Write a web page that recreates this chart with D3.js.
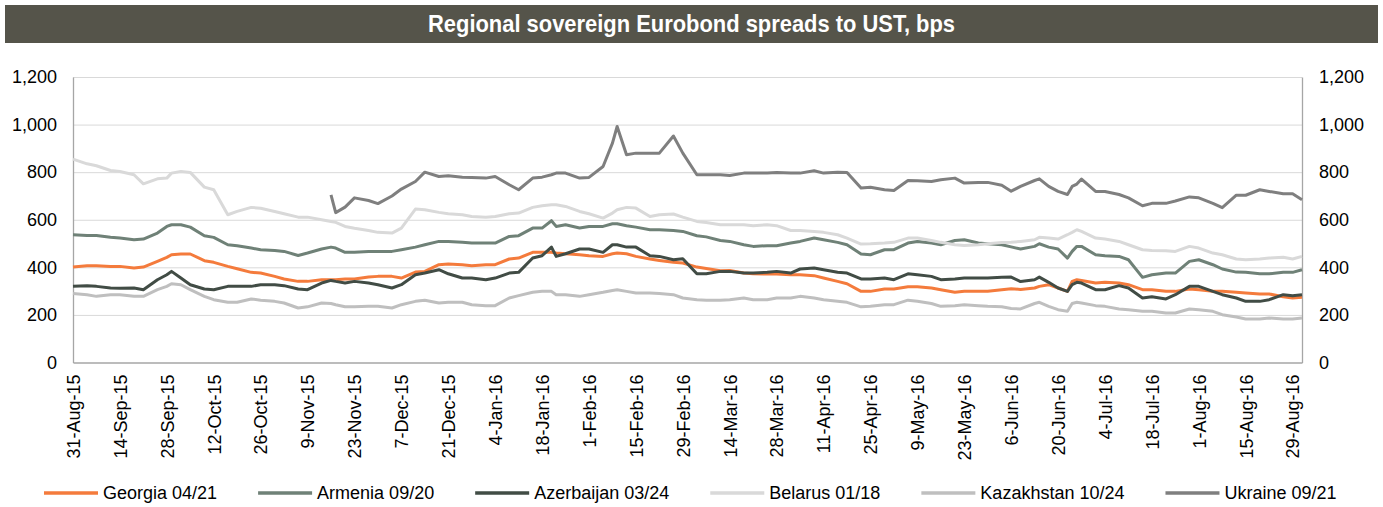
<!DOCTYPE html>
<html>
<head>
<meta charset="utf-8">
<script src="https://cdnjs.cloudflare.com/ajax/libs/d3/7.8.5/d3.min.js"></script>
<style>
  body { margin: 0; background: #ffffff; }
  text { font-family: "Liberation Sans", Arial, sans-serif; }
</style>
</head>
<body>
<svg id="chart"></svg>
<script>
// dates (business days, roughly twice a week)
var dates = [
  "2015-08-31","2015-09-03","2015-09-07","2015-09-10","2015-09-14","2015-09-17","2015-09-21","2015-09-24","2015-09-28","2015-09-29",
  "2015-10-01","2015-10-05","2015-10-08","2015-10-12","2015-10-15","2015-10-19","2015-10-22","2015-10-26","2015-10-29","2015-11-02",
  "2015-11-05","2015-11-09","2015-11-12","2015-11-16","2015-11-17","2015-11-19","2015-11-23","2015-11-26","2015-11-30","2015-12-03",
  "2015-12-07","2015-12-10","2015-12-14","2015-12-17","2015-12-21","2015-12-24","2015-12-28","2015-12-31","2016-01-04","2016-01-07",
  "2016-01-11","2016-01-14","2016-01-18","2016-01-20","2016-01-21","2016-01-25","2016-01-28","2016-02-01","2016-02-04","2016-02-08",
  "2016-02-09","2016-02-11","2016-02-15","2016-02-18","2016-02-22","2016-02-25","2016-02-29","2016-03-03","2016-03-07","2016-03-10",
  "2016-03-14","2016-03-17","2016-03-21","2016-03-24","2016-03-28","2016-03-31","2016-04-04","2016-04-07","2016-04-11","2016-04-14",
  "2016-04-18","2016-04-21","2016-04-25","2016-04-28","2016-05-02","2016-05-05","2016-05-09","2016-05-12","2016-05-16","2016-05-19",
  "2016-05-23","2016-05-26","2016-05-30","2016-06-02","2016-06-06","2016-06-08","2016-06-13","2016-06-14","2016-06-16","2016-06-20",
  "2016-06-22","2016-06-23","2016-06-24","2016-06-27","2016-06-30","2016-07-04","2016-07-07","2016-07-11","2016-07-14","2016-07-18",
  "2016-07-21","2016-07-25","2016-07-28","2016-08-01","2016-08-04","2016-08-08","2016-08-11","2016-08-15","2016-08-18","2016-08-22",
  "2016-08-25","2016-08-29","2016-08-31"
];

var georgia = [
  401,407,407,404,404,397,401,425,442,453,
  456,456,428,421,404,394,379,376,362,351,
  341,341,348,348,348,351,351,359,362,362,
  355,380,383,411,414,411,407,411,411,435,
  439,463,463,463,460,457,453,449,446,457,
  460,457,446,435,429,421,418,401,395,386,
  387,376,373,372,372,369,369,365,355,341,
  331,299,299,309,309,318,318,313,306,295,
  299,299,299,306,310,307,313,320,327,313,
  299,341,348,345,334,337,334,327,306,306,
  299,299,309,306,299,299,295,292,288,288,
  276,271,274
];
var armenia = [
  537,534,534,526,523,516,519,544,572,579,
  579,569,533,526,495,491,481,474,471,467,
  450,460,477,485,481,463,463,467,467,467,
  474,485,495,509,509,505,502,502,502,530,
  533,565,565,596,572,579,565,572,572,583,
  583,575,569,558,558,555,551,533,528,513,
  509,495,488,491,491,502,509,523,516,505,
  495,456,453,474,474,502,509,502,495,513,
  516,502,499,495,486,477,488,499,485,477,
  439,467,488,488,453,449,446,432,358,369,
  376,376,425,432,411,393,380,379,373,373,
  379,379,390
];
var azerbaijan = [
  320,323,320,313,312,313,306,348,369,383,
  355,327,309,306,320,320,320,327,327,323,
  309,306,334,345,341,334,341,334,327,313,
  327,369,376,390,373,355,355,348,355,376,
  379,439,449,485,446,457,477,477,463,495,
  495,485,485,449,446,432,436,373,373,383,
  383,376,376,379,383,376,393,397,390,379,
  376,351,351,355,348,373,369,362,348,351,
  355,355,355,358,359,340,348,359,337,313,
  299,327,337,334,306,306,323,313,271,276,
  267,285,320,320,299,285,271,257,257,264,
  285,281,285
];
var belarus = [
  855,835,827,807,803,789,751,772,775,796,
  803,799,737,726,621,635,652,648,635,625,
  611,611,600,593,589,572,564,555,547,544,
  565,645,642,631,625,621,614,611,614,625,
  628,652,659,663,663,656,635,625,607,628,
  642,652,649,614,621,624,611,593,588,579,
  579,579,575,579,575,555,555,551,547,537,
  523,498,499,502,505,523,523,513,505,495,
  492,495,499,504,505,509,516,526,523,519,
  537,547,558,551,523,519,509,495,474,471,
  470,467,488,481,460,453,435,432,435,439,
  442,435,446
];
var kazakhstan = [
  290,285,278,285,285,278,278,306,320,331,
  327,306,278,264,253,253,267,262,257,250,
  229,234,250,248,243,234,234,236,236,229,
  243,257,262,250,253,253,243,239,239,271,
  281,295,299,299,285,285,278,285,295,303,
  306,299,292,292,290,285,271,264,262,262,
  264,271,264,264,271,271,278,271,264,257,
  253,234,236,243,243,262,257,248,236,239,
  243,239,236,234,227,225,248,253,236,222,
  215,248,253,250,239,236,225,222,215,215,
  208,208,225,222,215,201,191,183,183,187,
  183,183,187
];
var ukraine = [
  null,null,null,null,null,null,null,null,null,null,
  null,null,null,null,null,null,null,null,null,null,
  null,null,null,705,630,653,692,681,668,700,
  729,761,800,782,785,779,778,775,782,747,
  726,775,779,789,796,796,775,778,824,922,
  992,873,880,880,880,952,880,789,789,789,
  786,796,796,796,799,796,796,806,796,800,
  799,733,737,726,723,765,764,761,768,775,
  754,757,757,745,720,740,765,772,740,719,
  706,740,750,771,719,719,706,692,659,669,
  669,679,696,692,669,651,703,703,726,719,
  709,709,684
];

var seriesNames = ["Georgia 04/21","Armenia 09/20","Azerbaijan 03/24","Belarus 01/18","Kazakhstan 10/24","Ukraine 09/21"];
var seriesValues = [georgia, armenia, azerbaijan, belarus, kazakhstan, ukraine];
var seriesColors = ["#F47B3C","#6F8177","#414C45","#D9D9D9","#BFBFBF","#7F7F7F"];
var yTicks = [0,200,400,600,800,1000,1200];

var W = 1383, H = 507;
var plotLeft = 73, plotRight = 1302, plotTop = 77, plotBottom = 362.5;

var svg = d3.select("#chart")
            .attr("width", W)
            .attr("height", H)
            .style("background-color", "#ffffff");

var parseDate = d3.timeParse("%Y-%m-%d");
var start = parseDate(dates[0]);
var fmt = d3.timeFormat("%-d-%b-%y");

// position along the axis = business day number since the first date
function bizIndex(d){
    return d3.timeMonday.count(start, d) * 5 + (d.getDay() + 6) % 7;
}
function bizDate(i){
    return d3.timeDay.offset(start, Math.floor(i / 5) * 7 + i % 5);
}

var lastIdx = bizIndex(parseDate(dates[dates.length - 1]));

var x = d3.scaleLinear().domain([0, lastIdx]).range([plotLeft, plotRight]);
var y = d3.scaleLinear().domain([0, 1200]).range([plotBottom, plotTop]);

// title bar
svg.append("rect")
    .attr("x", 5).attr("y", 5)
    .attr("width", 1373).attr("height", 38)
    .attr("fill", "#55544A");
svg.append("text")
    .attr("x", 691.5).attr("y", 32)
    .attr("text-anchor", "middle")
    .style("font-family", "'Liberation Sans Narrow','Arial Narrow','Liberation Sans',Arial,sans-serif")
    .style("font-weight", "bold")
    .style("font-size", "24px")
    .attr("textLength", 527)
    .attr("lengthAdjust", "spacingAndGlyphs")
    .style("fill", "#ffffff")
    .text("Regional sovereign Eurobond spreads to UST, bps");

// gridlines
var grid = svg.append("g")
    .attr("transform", "translate(" + plotLeft + ",0)")
    .call(d3.axisLeft(y).tickValues(yTicks.slice(1)).tickSize(-(plotRight - plotLeft)).tickFormat(""));
grid.select(".domain").remove();
grid.selectAll("line").attr("stroke", "#D9D9D9").attr("stroke-width", 1);

// left / right axes
var yLeft = svg.append("g")
    .attr("transform", "translate(" + plotLeft + ",0)")
    .call(d3.axisLeft(y).tickValues(yTicks).tickSize(0).tickSizeOuter(0).tickPadding(16).tickFormat(d3.format(",")));
var yRight = svg.append("g")
    .attr("transform", "translate(" + plotRight + ",0)")
    .call(d3.axisRight(y).tickValues(yTicks).tickSize(0).tickSizeOuter(0).tickPadding(17).tickFormat(d3.format(",")));

[yLeft, yRight].forEach(function(g){
    g.select(".domain").attr("stroke", "#A6A6A6").attr("stroke-width", 1.3);
    g.selectAll("text")
        .style("font-family", "'Liberation Sans',Arial,sans-serif")
        .style("font-size", "18px")
        .style("fill", "#000000");
});

// x axis
var xAxis = svg.append("g")
    .attr("transform", "translate(0," + plotBottom + ")")
    .call(d3.axisBottom(x)
        .tickValues(d3.range(0, lastIdx, 10))
        .tickSize(0).tickSizeOuter(0)
        .tickFormat(function(i){ return fmt(bizDate(i)); }));
xAxis.select(".domain").attr("stroke", "#A6A6A6").attr("stroke-width", 1.3);
xAxis.selectAll("text")
    .attr("transform", "rotate(-90)")
    .attr("text-anchor", "end")
    .attr("x", -12)
    .attr("y", 0)
    .attr("dy", "0.35em")
    .style("font-family", "'Liberation Sans',Arial,sans-serif")
    .style("font-size", "18px")
    .style("fill", "#000000");

// lines
var line = d3.line()
    .defined(function(d){ return d.v != null; })
    .x(function(d){ return x(d.i); })
    .y(function(d){ return y(d.v); });

seriesValues.forEach(function(vals, s){
    var rows = dates.map(function(ds, j){
        return { i: bizIndex(parseDate(ds)), v: vals[j] };
    });
    svg.append("path")
        .datum(rows)
        .attr("fill", "none")
        .attr("stroke", seriesColors[s])
        .attr("stroke-width", 3)
        .attr("stroke-linejoin", "round")
        .attr("d", line);
});

// legend
var legend = svg.append("g").attr("transform", "translate(0,493)");
var lx = 44;
seriesNames.forEach(function(name, s){
    legend.append("line")
        .attr("x1", lx).attr("x2", lx + 54)
        .attr("y1", 0).attr("y2", 0)
        .attr("stroke", seriesColors[s])
        .attr("stroke-width", 3.5);
    var t = legend.append("text")
        .attr("x", lx + 59)
        .attr("y", 0)
        .attr("dy", "0.35em")
        .style("font-size", "18px")
        .style("fill", "#000000")
        .text(name);
    lx += 59 + t.node().getComputedTextLength() + 41;
});
</script>
</body>
</html>
